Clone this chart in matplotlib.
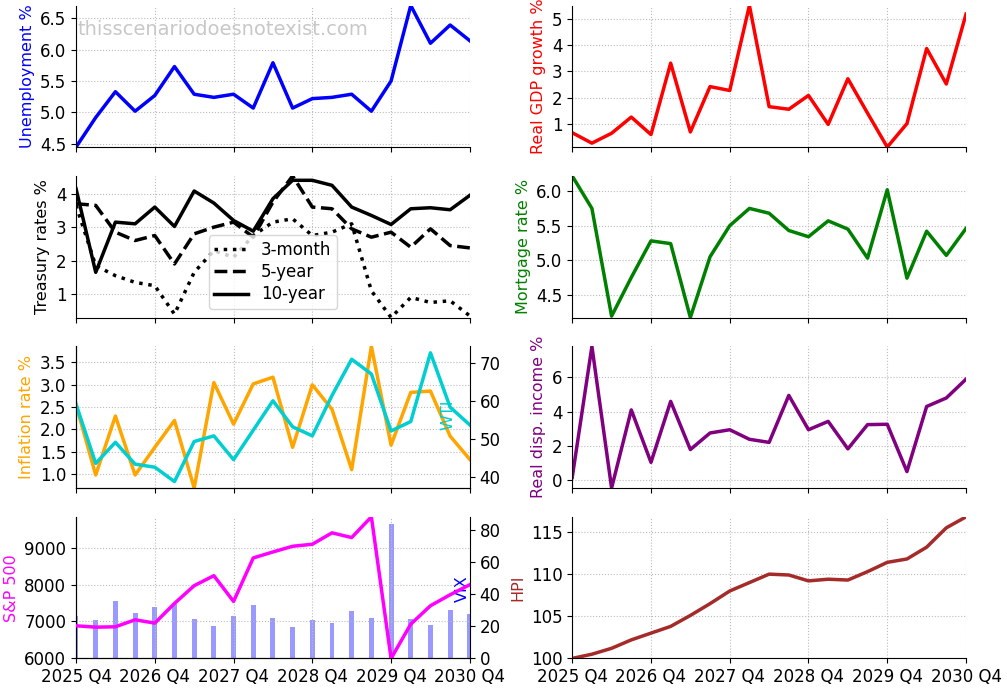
import matplotlib
matplotlib.use("Agg")
import matplotlib.pyplot as plt
from matplotlib.ticker import MultipleLocator
import numpy as np

quarters = ["2025 Q4", "2026 Q1", "2026 Q2", "2026 Q3", "2026 Q4", "2027 Q1", "2027 Q2",
            "2027 Q3", "2027 Q4", "2028 Q1", "2028 Q2", "2028 Q3", "2028 Q4", "2029 Q1",
            "2029 Q2", "2029 Q3", "2029 Q4", "2030 Q1", "2030 Q2", "2030 Q3", "2030 Q4"]

unemployment = [4.45, 4.92, 5.33, 5.02, 5.27, 5.73, 5.29, 5.24, 5.29, 5.07, 5.79,
                5.07, 5.22, 5.24, 5.29, 5.02, 5.50, 6.70, 6.10, 6.39, 6.14]
gdp = [0.65, 0.25, 0.63, 1.25, 0.58, 3.32, 0.68, 2.42, 2.27, 5.53, 1.65,
       1.55, 2.08, 0.97, 2.72, 1.40, 0.10, 1.00, 3.88, 2.52, 5.20]
t3m = [3.65, 1.85, 1.55, 1.35, 1.25, 0.40, 1.65, 2.30, 2.10, 2.75, 3.15,
       3.25, 2.75, 2.85, 3.10, 1.10, 0.30, 0.90, 0.75, 0.80, 0.35]
t5y = [3.70, 3.65, 2.85, 2.60, 2.75, 1.90, 2.80, 3.00, 3.15, 2.70, 3.75,
       4.53, 3.60, 3.55, 2.95, 2.70, 2.85, 2.40, 2.95, 2.45, 2.38]
t10y = [4.15, 1.65, 3.15, 3.10, 3.60, 3.02, 4.08, 3.72, 3.20, 2.88, 3.85,
        4.40, 4.40, 4.25, 3.60, 3.35, 3.08, 3.55, 3.58, 3.52, 3.95]
mortgage = [6.22, 5.75, 4.19, 4.75, 5.28, 5.24, 4.17, 5.05, 5.50, 5.75, 5.68,
            5.43, 5.34, 5.57, 5.45, 5.03, 6.02, 4.74, 5.42, 5.07, 5.46]
inflation = [2.55, 0.98, 2.30, 0.98, 1.60, 2.20, 0.69, 3.05, 2.12, 3.02, 3.17,
             1.60, 3.00, 2.45, 1.10, 3.86, 1.65, 2.83, 2.86, 1.85, 1.33]
wti = [59.2, 43.5, 49.1, 43.3, 42.5, 38.7, 49.3, 50.8, 44.5, 52.3, 60.1,
       53.2, 50.8, 61.5, 71.1, 67.2, 52.1, 54.6, 72.8, 58.4, 53.7]
income = [0.15, 7.82, -0.47, 4.10, 1.03, 4.60, 1.78, 2.75, 2.94, 2.38, 2.20,
          4.95, 2.94, 3.43, 1.82, 3.24, 3.26, 0.49, 4.30, 4.80, 5.90]
sp500 = [6882, 6845, 6855, 7045, 6955, 7490, 7973, 8245, 7545, 8727, 8890,
         9045, 9100, 9410, 9282, 9845, 5995, 6927, 7427, 7727, 8000]
vix = [26.4, 23.9, 35.8, 28.5, 32.2, 33.9, 24.5, 20.2, 26.4, 33.3, 25.2,
       19.5, 23.9, 22.2, 29.5, 25.2, 83.8, 24.5, 20.8, 30.1, 27.6]
hpi = [100.0, 100.5, 101.2, 102.2, 103.0, 103.8, 105.1, 106.5, 108.0, 109.0, 110.0,
       109.9, 109.2, 109.4, 109.3, 110.3, 111.4, 111.8, 113.2, 115.5, 116.8]

x = np.arange(len(quarters))
lw = 2.5

fig, axes = plt.subplots(4, 2, sharex=True, figsize=(10.07, 6.88), dpi=100)
fig.subplots_adjust(left=0.0755, right=0.9593, top=0.992, bottom=0.043,
                    wspace=0.26, hspace=0.204)


def style(ax, step, twin=False):
    ax.spines["top"].set_visible(False)
    if not twin:
        ax.spines["right"].set_visible(False)
        ax.grid(True, linestyle=":", color="#bbbbbb", linewidth=0.8)
        ax.set_xlim(x[0], x[-1])
        ax.margins(y=0)
    ax.tick_params(labelsize=12)
    ax.yaxis.set_major_locator(MultipleLocator(step))


ax = axes[0, 0]
ax.plot(x, unemployment, color="blue", lw=lw)
ax.set_ylabel("Unemployment %", color="blue", fontsize=11.5)
ax.text(0.005, 0.83, "thisscenariodoesnotexist.com", transform=ax.transAxes,
        fontsize=14, color="#c8c8c8", va="center")
style(ax, 0.5)

ax = axes[0, 1]
ax.plot(x, gdp, color="red", lw=lw)
ax.set_ylabel("Real GDP growth %", color="red", fontsize=11.5)
style(ax, 1)

ax = axes[1, 0]
ax.plot(x, t3m, color="black", lw=lw, linestyle=":", label="3-month")
ax.plot(x, t5y, color="black", lw=lw, linestyle="--", label="5-year")
ax.plot(x, t10y, color="black", lw=lw, label="10-year")
ax.set_ylabel("Treasury rates %", color="black", fontsize=11.5)
ax.legend(loc="lower center", fontsize=12, labelspacing=0.25, borderpad=0.35)
style(ax, 1)

ax = axes[1, 1]
ax.plot(x, mortgage, color="green", lw=lw)
ax.set_ylabel("Mortgage rate %", color="green", fontsize=11.5)
style(ax, 0.5)

ax = axes[2, 0]
ax.plot(x, inflation, color="orange", lw=lw)
ax.set_ylabel("Inflation rate %", color="orange", fontsize=11.5)
style(ax, 0.5)
ax2 = ax.twinx()
ax2.plot(x, wti, color="darkturquoise", lw=lw)
ax2.set_ylabel("WTI", color="darkturquoise", fontsize=11.5)
ax2.yaxis.set_label_coords(0.926, 0.52)
style(ax2, 10, twin=True)

ax = axes[2, 1]
ax.plot(x, income, color="purple", lw=lw)
ax.set_ylabel("Real disp. income %", color="purple", fontsize=11.5)
style(ax, 2)

ax = axes[3, 0]
ax.plot(x, sp500, color="magenta", lw=lw, zorder=3)
ax.set_ylabel("S&P 500", color="magenta", fontsize=11.5)
style(ax, 1000)
ax2 = ax.twinx()
ax2.bar(x, vix, width=0.25, color="blue", alpha=0.4)
ax2.set_ylabel("VIX", color="blue", fontsize=11.5)
ax2.yaxis.set_label_coords(0.962, 0.49)
style(ax2, 20, twin=True)
ax.set_zorder(ax2.get_zorder() + 1)
ax.patch.set_visible(False)

ax = axes[3, 1]
ax.plot(x, hpi, color="brown", lw=lw)
ax.set_ylabel("HPI", color="brown", fontsize=11.5)
style(ax, 5)

for ax in axes[3]:
    ax.set_xticks(x[::4])
    ax.set_xticklabels(quarters[::4])

fig.savefig("out.png")
